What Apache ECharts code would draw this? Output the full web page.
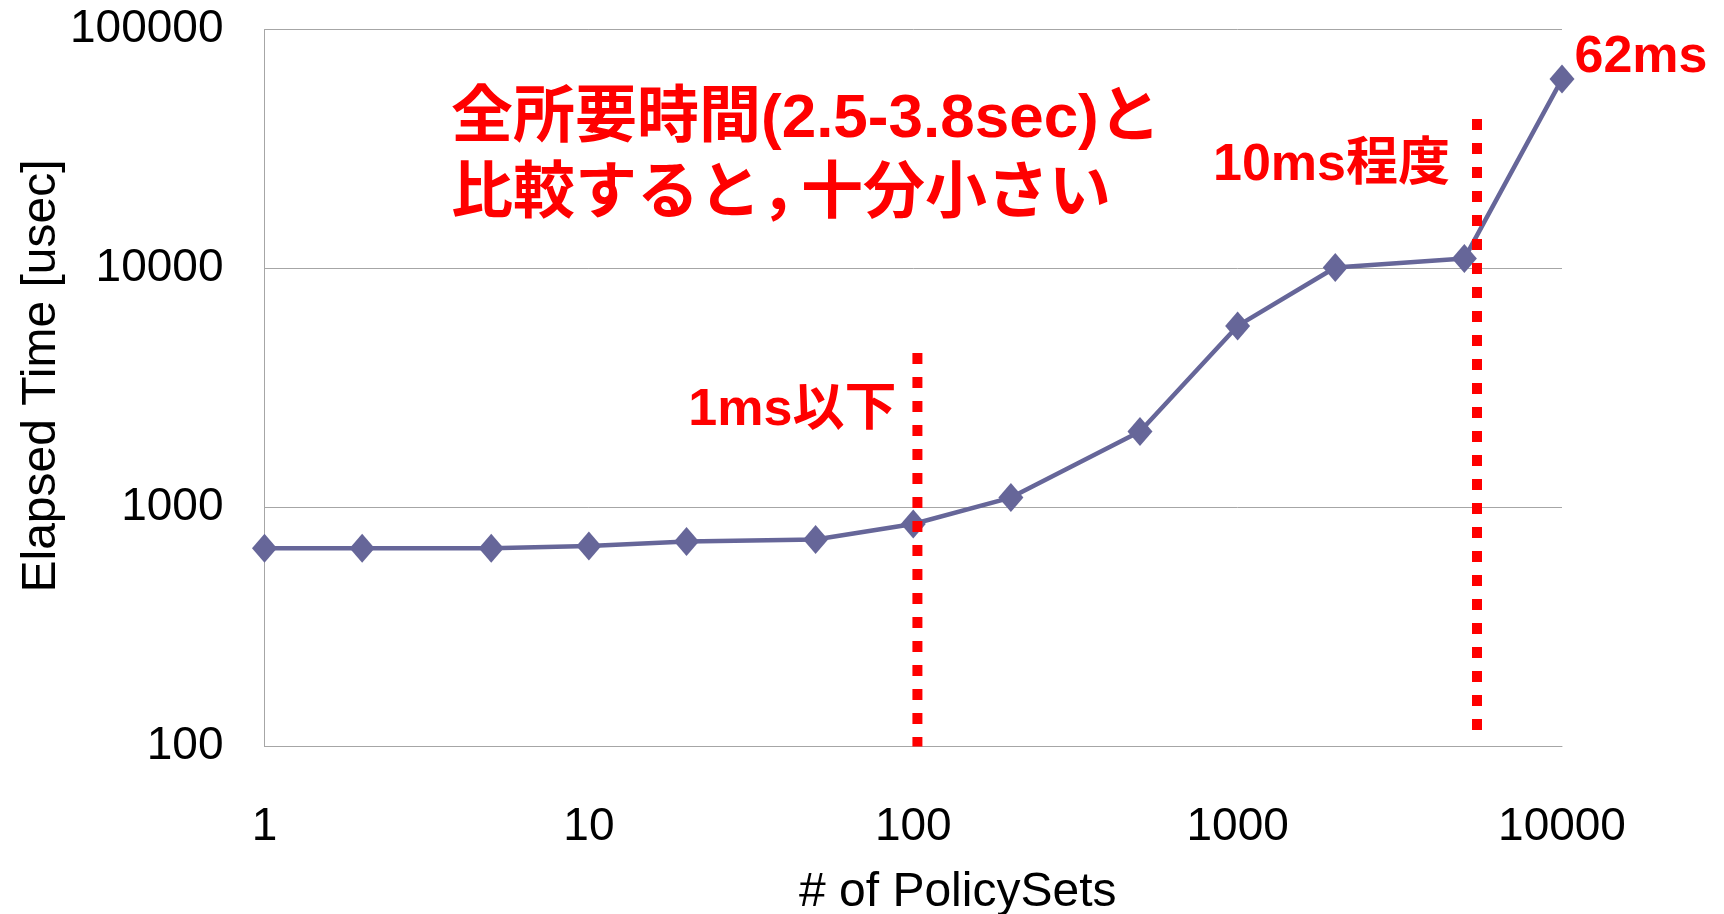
<!DOCTYPE html>
<html>
<head>
<meta charset="utf-8">
<title>Elapsed Time vs # of PolicySets</title>
<script src="https://cdn.jsdelivr.net/npm/echarts@6/dist/echarts.min.js"></script>
<style>
  html, body { margin: 0; padding: 0; background: #ffffff; }
  #chart { width: 1724px; height: 914px; }
</style>
</head>
<body>
<div id="chart"></div>
<script>
// Number of policy sets (x) and measured elapsed time in microseconds (y)
const policySets = [1, 2, 5, 10, 20, 50, 100, 200, 500, 1000, 2000, 5000, 10000];
const elapsedUsec = [675, 675, 675, 690, 720, 735, 853, 1100, 2080, 5750, 10100, 11000, 62000];

// Vertical red guide lines: x position, top value, bottom value
const guideX = [103, 5470];
const guideTop = [4430, 42200];
const guideBottom = [100, 117];
const guideText = ['1ms以下', '10ms程度'];

// Axis tick labels (powers of ten)
const xTicks = [1, 10, 100, 1000, 10000];
const yTicks = [100, 1000, 10000, 100000];

const noteLine1 = '全所要時間(2.5-3.8sec)と';
const noteLine2 = ['比較すると', '，', '十分小さい'];

const FONT = '"Liberation Sans", Arial, "Noto Sans CJK JP", sans-serif';
const LINE_COLOR = '#666699';
const GRID_COLOR = '#a6a6a6';
const RED = '#ff0000';

const chart = echarts.init(document.getElementById('chart'), null, { renderer: 'canvas' });

const lastIdx = policySets.length - 1;
const mainData = policySets.map((x, i) => {
  const item = { value: [x, elapsedUsec[i]] };
  if (i === lastIdx) {
    item.label = {
      show: true,
      position: 'right',
      distance: 0,
      offset: [0, -21],
      formatter: p => (p.value[1] / 1000) + 'ms',
      color: RED,
      fontFamily: FONT,
      fontWeight: 'bold',
      fontSize: 52
    };
  }
  return item;
});

const guideSeries = guideX.map((gx, i) => ({
  type: 'line',
  data: [[gx, guideTop[i]], [gx, guideBottom[i]]],
  symbol: 'none',
  silent: true,
  z: 5,
  lineStyle: { color: RED, width: 10, type: [11, 13], cap: 'butt' },
  animation: false
}));

chart.setOption({
  animation: false,
  backgroundColor: '#ffffff',
  grid: {
    left: 264.5, right: 162, top: 29.5, bottom: 167.5,
    containLabel: false,
    outerBoundsMode: 'none'
  },
  xAxis: {
    type: 'log',
    logBase: 10,
    min: xTicks[0],
    max: xTicks[xTicks.length - 1],
    name: '# of PolicySets',
    nameLocation: 'middle',
    nameGap: 122,
    nameMoveOverlap: false,
    nameTextStyle: { fontFamily: FONT, fontSize: 48, color: '#000000', padding: [0, 0, 0, 89] },
    axisLine: { show: true, lineStyle: { color: GRID_COLOR, width: 1 } },
    axisTick: { show: false },
    splitLine: { show: false },
    minorTick: { show: false },
    axisLabel: {
      fontFamily: FONT, fontSize: 46, color: '#000000', margin: 58,
      formatter: v => String(v)
    }
  },
  yAxis: {
    type: 'log',
    logBase: 10,
    min: yTicks[0],
    max: yTicks[yTicks.length - 1],
    name: 'Elapsed Time [usec]',
    nameLocation: 'middle',
    nameGap: 199,
    nameMoveOverlap: false,
    nameRotate: 90,
    nameTextStyle: { fontFamily: FONT, fontSize: 48, color: '#000000', padding: [0, 0, 0, 24] },
    axisLine: { show: true, lineStyle: { color: GRID_COLOR, width: 1 } },
    axisTick: { show: false },
    splitLine: { show: true, lineStyle: { color: GRID_COLOR, width: 1 } },
    axisLabel: {
      fontFamily: FONT, fontSize: 46, color: '#000000', margin: 41,
      padding: [6, 0, 0, 0],
      formatter: v => String(v)
    }
  },
  series: [
    {
      type: 'line',
      data: mainData,
      z: 3,
      symbol: 'diamond',
      symbolSize: [25, 29],
      itemStyle: { color: LINE_COLOR },
      lineStyle: { color: LINE_COLOR, width: 4.5 },
      label: { show: false },
      emphasis: { disabled: true }
    }
  ].concat(guideSeries)
});

// Text annotations: note box plus labels beside the top of each guide line
const noteFont = { fill: RED, fontFamily: FONT, fontWeight: 'bold', fontSize: 62 };
const graphics = [
  {
    type: 'text',
    x: 451,
    y: 81.5,
    z: 10,
    style: Object.assign({
      text: noteLine1 + '\n' + noteLine2[0] + '{c|' + noteLine2[1] + '}' + noteLine2[2],
      lineHeight: 76,
      align: 'left',
      verticalAlign: 'top',
      rich: {
        c: { fill: RED, fontFamily: FONT, fontWeight: 'bold', fontSize: 62, lineHeight: 76, width: 40 }
      }
    }, noteFont)
  }
];
const guideLabelShift = [[-21, 58], [-27, 47]];
guideX.forEach((gx, i) => {
  const pt = chart.convertToPixel({ gridIndex: 0 }, [gx, guideTop[i]]);
  graphics.push({
    type: 'text',
    x: pt[0] + guideLabelShift[i][0],
    y: pt[1] + guideLabelShift[i][1],
    z: 10,
    style: {
      text: guideText[i],
      fill: RED,
      fontFamily: FONT,
      fontWeight: 'bold',
      fontSize: 52,
      align: 'right',
      verticalAlign: 'middle'
    }
  });
});
chart.setOption({ graphic: graphics });
</script>
</body>
</html>
